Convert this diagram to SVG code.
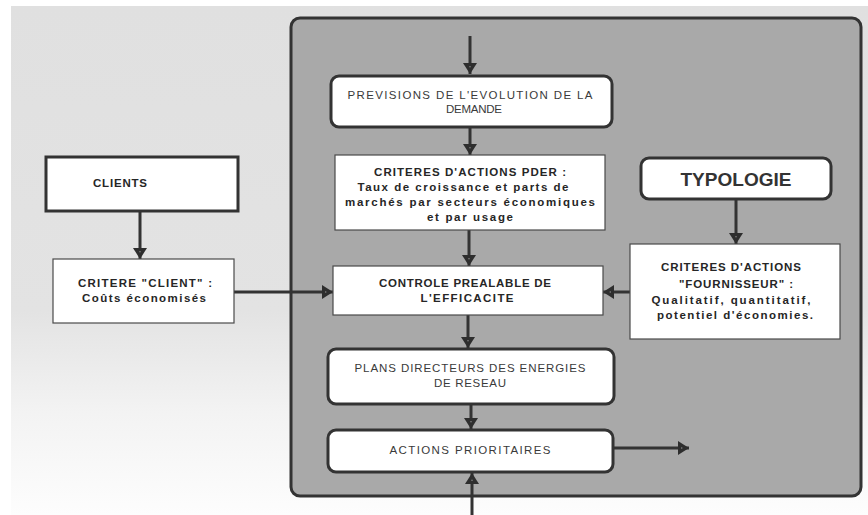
<svg xmlns="http://www.w3.org/2000/svg" width="868" height="515" viewBox="0 0 868 515">
  <defs>
    <linearGradient id="bg" x1="0" y1="0" x2="0" y2="1">
      <stop offset="0" stop-color="#e0e0e0"/>
      <stop offset="0.6" stop-color="#e3e3e3"/>
      <stop offset="0.8" stop-color="#f3f3f3"/>
      <stop offset="1" stop-color="#fdfdfd"/>
    </linearGradient>
    <marker id="ah" viewBox="0 0 11 14" refX="11" refY="7" markerWidth="11" markerHeight="14" markerUnits="userSpaceOnUse" orient="auto" overflow="visible">
      <path d="M0,0 L11,7 L0,14 Z" fill="#2e2e2e"/>
      <path d="M3,6 L5,7 L3,8 Z" fill="#777777"/>
    </marker>
    <style>
      .lbl { font-family: "Liberation Sans", Arial, sans-serif; font-size: 11.5px; text-anchor: middle; }
      .dark { font-weight: bold; fill: #262626; }
      .grey { font-weight: normal; font-size: 11.5px; fill: #3a3a3a; }
      .rbox { fill: #ffffff; stroke: #333333; stroke-width: 3; }
      .sbox { fill: #ffffff; stroke: #4a4a4a; stroke-width: 1.2; }
      .conn { fill: none; stroke: #333333; stroke-width: 3; }
    </style>
  </defs>

  <rect x="0" y="0" width="868" height="515" fill="#ffffff"/>
  <rect x="11" y="6" width="857" height="509" fill="url(#bg)"/>

  <g id="panel">
    <rect x="291" y="18" width="570" height="478" rx="9" fill="#a9a9a9" stroke="#333333" stroke-width="3"/>
  </g>

  <g id="connectors">
    <line class="conn" marker-end="url(#ah)" x1="470" y1="36" x2="470" y2="74"/>
    <line class="conn" marker-end="url(#ah)" x1="470" y1="128" x2="470" y2="155"/>
    <line class="conn" marker-end="url(#ah)" x1="469" y1="230" x2="469" y2="266"/>
    <line class="conn" marker-end="url(#ah)" x1="468" y1="315" x2="468" y2="348"/>
    <line class="conn" marker-end="url(#ah)" x1="471" y1="405" x2="471" y2="429"/>
    <line class="conn" marker-end="url(#ah)" x1="613" y1="448" x2="689" y2="448"/>
    <line class="conn" marker-end="url(#ah)" x1="472" y1="515" x2="472" y2="473"/>
    <line class="conn" marker-end="url(#ah)" x1="140" y1="212" x2="140" y2="259"/>
    <line class="conn" marker-end="url(#ah)" x1="234" y1="292" x2="333" y2="292"/>
    <line class="conn" marker-end="url(#ah)" x1="736" y1="200" x2="736" y2="244"/>
    <line class="conn" marker-end="url(#ah)" x1="630" y1="292" x2="603" y2="292"/>
  </g>

  <g id="previsions">
    <rect class="rbox" x="331" y="76" width="281" height="51" rx="8"/>
    <text class="lbl grey" x="470" y="99" textLength="245" lengthAdjust="spacing">PREVISIONS DE L'EVOLUTION DE LA</text>
    <text class="lbl grey" x="474" y="113" textLength="56" lengthAdjust="spacing">DEMANDE</text>
  </g>

  <g id="criteres-pder">
    <rect class="sbox" x="335" y="155" width="270" height="75"/>
    <text class="lbl dark" x="470" y="176" textLength="192" lengthAdjust="spacing">CRITERES D'ACTIONS PDER :</text>
    <text class="lbl dark" x="463" y="191" textLength="211" lengthAdjust="spacing">Taux de croissance et parts de</text>
    <text class="lbl dark" x="470" y="206" textLength="250" lengthAdjust="spacing">marchés par secteurs économiques</text>
    <text class="lbl dark" x="470" y="221" textLength="86" lengthAdjust="spacing">et par usage</text>
  </g>

  <g id="controle">
    <rect class="sbox" x="333" y="266" width="270" height="49"/>
    <text class="lbl dark" x="465" y="287" textLength="172" lengthAdjust="spacing">CONTROLE PREALABLE DE</text>
    <text class="lbl dark" x="467" y="302" textLength="93" lengthAdjust="spacing">L'EFFICACITE</text>
  </g>

  <g id="plans">
    <rect class="rbox" x="328" y="349" width="286" height="55" rx="8"/>
    <text class="lbl grey" x="470" y="372" textLength="231" lengthAdjust="spacing">PLANS DIRECTEURS DES ENERGIES</text>
    <text class="lbl grey" x="470" y="387" textLength="72" lengthAdjust="spacing">DE RESEAU</text>
  </g>

  <g id="actions">
    <rect class="rbox" x="328" y="430" width="285" height="42" rx="8"/>
    <text class="lbl grey" x="470" y="454" textLength="161" lengthAdjust="spacing">ACTIONS PRIORITAIRES</text>
  </g>

  <g id="clients">
    <rect x="46" y="157" width="192" height="54" fill="#ffffff" stroke="#333333" stroke-width="3"/>
    <text class="lbl dark" x="120" y="187" textLength="54" lengthAdjust="spacing">CLIENTS</text>
  </g>

  <g id="critere-client">
    <rect class="sbox" x="53" y="259" width="181" height="64"/>
    <text class="lbl dark" x="145" y="287" textLength="134" lengthAdjust="spacing">CRITERE "CLIENT" :</text>
    <text class="lbl dark" x="144" y="302" textLength="124" lengthAdjust="spacing">Coûts économisés</text>
  </g>

  <g id="typologie">
    <rect class="rbox" x="641" y="158" width="190" height="41" rx="8"/>
    <text x="736" y="186" font-family="'Liberation Sans', Arial, sans-serif" font-size="19" font-weight="bold" fill="#333333" text-anchor="middle" textLength="111" lengthAdjust="spacingAndGlyphs">TYPOLOGIE</text>
  </g>

  <g id="criteres-fournisseur">
    <rect class="sbox" x="630" y="244" width="210" height="95"/>
    <text class="lbl dark" x="731" y="271" textLength="140" lengthAdjust="spacing">CRITERES D'ACTIONS</text>
    <text class="lbl dark" x="736" y="288" textLength="114" lengthAdjust="spacing">"FOURNISSEUR" :</text>
    <text class="lbl dark" x="731" y="304" textLength="159" lengthAdjust="spacing">Qualitatif,  quantitatif,</text>
    <text class="lbl dark" x="735" y="319" textLength="156" lengthAdjust="spacing">potentiel  d'économies.</text>
  </g>
</svg>
